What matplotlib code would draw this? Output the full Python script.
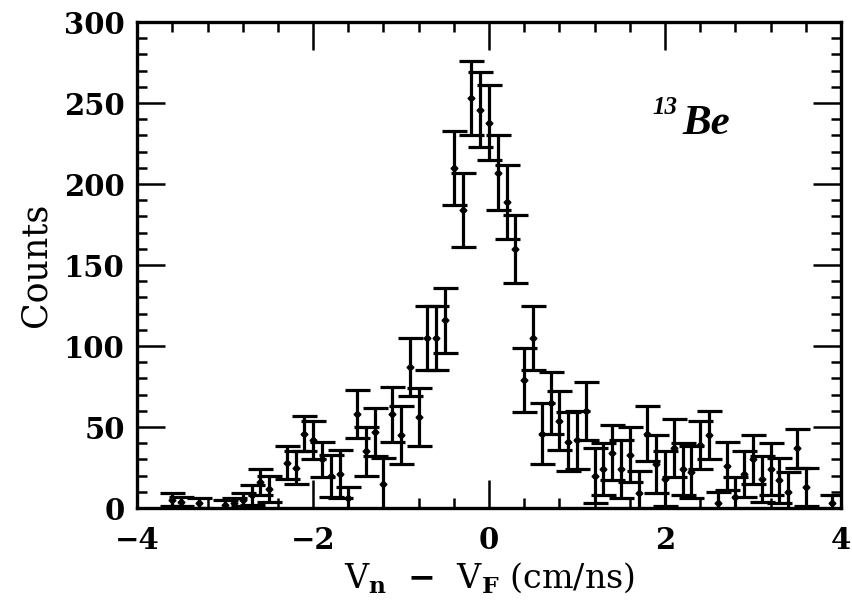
import matplotlib
matplotlib.use("Agg")
import matplotlib.pyplot as plt
from matplotlib.ticker import MultipleLocator

# counts per velocity-difference bin
vel = [-3.6, -3.5, -3.3, -3.0, -2.9, -2.8, -2.7, -2.6, -2.5, -2.3, -2.2, -2.1,
       -2.0, -1.9, -1.8, -1.7, -1.6, -1.5, -1.4, -1.3, -1.2, -1.1, -1.0, -0.9,
       -0.8, -0.7, -0.6, -0.5, -0.4, -0.3, -0.2, -0.1, 0.0, 0.1, 0.2, 0.3,
       0.4, 0.5, 0.6, 0.7, 0.8, 0.9, 1.0, 1.1, 1.2, 1.3, 1.4, 1.5,
       1.6, 1.7, 1.8, 1.9, 2.0, 2.1, 2.2, 2.3, 2.4, 2.5, 2.6, 2.7,
       2.8, 2.9, 3.0, 3.1, 3.2, 3.3, 3.4, 3.5, 3.6, 3.9]
counts = [5, 4, 3, 2, 3, 5, 8, 16, 12, 28, 25, 46,
          42, 30, 20, 21, 6, 58, 35, 47, 15, 58, 45, 87,
          56, 105, 105, 116, 210, 184, 253, 246, 238, 207, 189, 160,
          79, 105, 46, 65, 54, 41, 42, 60, 20, 24, 34, 24,
          33, 9, 46, 27, 18, 37, 24, 22, 39, 45, 3, 26,
          7, 21, 30, 18, 24, 17, 10, 37, 13, 3]
errs = [4, 3, 3, 3, 3, 4, 6, 8, 8, 10, 10, 11,
        12, 11, 13, 15, 7, 15, 15, 15, 16, 17, 18, 18,
        18, 20, 20, 20, 23, 23, 23, 23, 23, 23, 23, 21,
        20, 20, 19, 19, 18, 18, 18, 18, 17, 16, 17, 18,
        17, 14, 17, 18, 17, 18, 16, 16, 15, 15, 7, 15,
        12, 14, 15, 14, 16, 14, 12, 12, 12, 5]

plt.rcParams["font.family"] = ["DejaVu Serif"]
plt.rcParams["font.weight"] = "bold"
plt.rcParams["mathtext.fontset"] = "dejavuserif"

fig = plt.figure(figsize=(8.52, 6.14), dpi=100)
ax = fig.add_axes([0.161, 0.1726, 0.826, 0.7914])

ax.errorbar(vel, counts, yerr=errs, fmt="D", ms=3.5, color="black",
            ecolor="black", elinewidth=2.3, capsize=9, capthick=2.3)

ax.set_xlim(-4, 4)
ax.set_ylim(0, 300)
ax.xaxis.set_major_locator(MultipleLocator(2))
ax.xaxis.set_minor_locator(MultipleLocator(0.4))
ax.yaxis.set_major_locator(MultipleLocator(50))
ax.yaxis.set_minor_locator(MultipleLocator(10))
ax.tick_params(which="both", direction="in", top=True, right=True,
               width=1.8, labelsize=21)
ax.tick_params(axis="x", pad=13)
ax.tick_params(axis="y", pad=9)
ax.tick_params(which="major", length=20)
ax.tick_params(which="minor", length=7)
for s in ax.spines.values():
    s.set_linewidth(2.4)

ax.set_xlabel(r"V$_\mathbf{n}$  $-$  V$_\mathbf{F}$ (cm/ns)", fontsize=24, labelpad=4)
ax.set_ylabel("Counts", fontsize=25, labelpad=8)

ax.text(1.86, 243, "13", fontsize=18, fontweight="bold", fontstyle="italic",
        family="Liberation Serif", va="baseline")
ax.text(2.2, 231, "Be", fontsize=31, fontweight="bold", fontstyle="italic",
        family="Liberation Serif", va="baseline")

fig.savefig("out.png", dpi=100)
